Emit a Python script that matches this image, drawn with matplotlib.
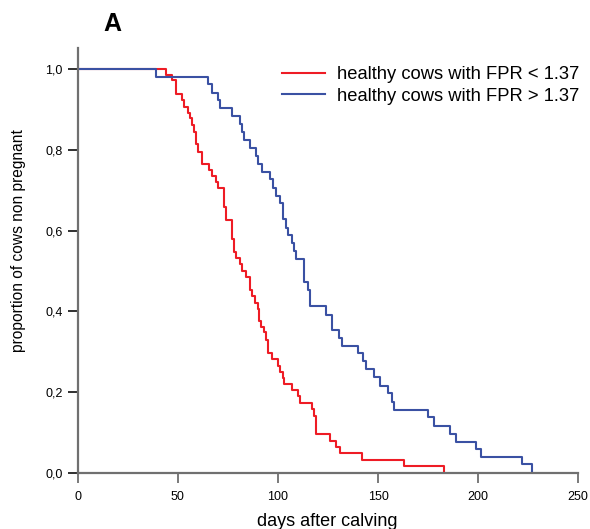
import matplotlib
matplotlib.use('Agg')
import matplotlib.pyplot as plt
from matplotlib.ticker import FuncFormatter

plt.rcParams['font.family'] = ['Liberation Sans', 'DejaVu Sans']

# Kaplan-Meier steps: day of each drop and the proportion left after it
low_days = [0, 44, 47, 49, 52, 53, 55, 56, 57, 58, 59, 60, 62, 65.5, 67, 69, 70,
            73, 74, 77, 78, 79, 81, 82, 84, 86, 87, 88.5, 90, 90.5, 91.5, 93, 94,
            95, 97, 100, 101, 102.5, 103, 107, 110, 111, 117, 118, 119, 126, 129,
            131, 142, 163, 183]
low_surv = [1.0, 0.986, 0.973, 0.938, 0.923, 0.905, 0.892, 0.878, 0.861, 0.844,
            0.814, 0.795, 0.766, 0.750, 0.735, 0.721, 0.706, 0.659, 0.626, 0.579,
            0.546, 0.532, 0.517, 0.501, 0.486, 0.453, 0.438, 0.422, 0.405, 0.376,
            0.362, 0.348, 0.329, 0.298, 0.281, 0.265, 0.249, 0.234, 0.220, 0.205,
            0.190, 0.173, 0.158, 0.142, 0.096, 0.079, 0.063, 0.049, 0.031, 0.018,
            0.0]

high_days = [0, 39, 65, 67, 70, 71, 77, 81, 82, 83, 86, 89, 90, 92, 96, 97.5, 99,
             101, 102.5, 104, 105, 107, 108, 109, 113, 115, 116, 124, 127, 130.5,
             132, 140, 142.5, 144, 148, 151, 155, 157, 158, 175, 178, 186, 189, 199,
             201.5, 222, 227]
high_surv = [1.0, 0.981, 0.962, 0.942, 0.923, 0.904, 0.884, 0.864, 0.845, 0.824,
             0.805, 0.785, 0.765, 0.746, 0.727, 0.706, 0.686, 0.668, 0.628, 0.607,
             0.588, 0.569, 0.550, 0.530, 0.472, 0.452, 0.413, 0.392, 0.354, 0.335,
             0.314, 0.296, 0.276, 0.257, 0.237, 0.216, 0.197, 0.176, 0.157, 0.138,
             0.117, 0.097, 0.077, 0.059, 0.040, 0.021, 0.0]

x_ticks = [0, 50, 100, 150, 200, 250]
y_ticks = [0.0, 0.2, 0.4, 0.6, 0.8, 1.0]

fig = plt.figure(figsize=(5.9, 5.29), dpi=100)
ax = fig.add_axes([0.132, 0.106, 0.848, 0.803])

ax.step(low_days, low_surv, where='post', color='#ee1c25', lw=1.5,
        label='healthy cows with FPR < 1.37')
ax.step(high_days, high_surv, where='post', color='#3a51a3', lw=1.5,
        label='healthy cows with FPR > 1.37')

ax.set_xlim(0, 250)
ax.set_ylim(0, 1.052)
ax.set_xticks(x_ticks)
ax.set_yticks(y_ticks)
ax.yaxis.set_major_formatter(FuncFormatter(lambda v, p: f'{v:.1f}'.replace('.', ',')))

for side in ['top', 'right']:
    ax.spines[side].set_visible(False)
for side in ['left', 'bottom']:
    ax.spines[side].set_color('#707070')
    ax.spines[side].set_linewidth(1.6)
ax.tick_params(axis='x', direction='out', length=7, width=1.3, color='#707070',
               labelsize=9, pad=6)
ax.tick_params(axis='y', direction='out', length=7, width=1.3, color='#202020',
               labelsize=9, pad=4)

ax.set_xlabel('days after calving', fontsize=13)
ax.xaxis.set_label_coords(0.498, -0.095)
ax.set_ylabel('proportion of cows non pregnant', fontsize=11.2)
ax.yaxis.set_label_coords(-0.104, 0.548)

fig.text(0.19, 0.955, 'A', fontsize=18, fontweight='bold', ha='center', va='center')

ax.legend(loc='upper left', bbox_to_anchor=(0.394, 0.975), frameon=False,
          fontsize=13.2, handlelength=2.35, handletextpad=0.65, labelspacing=0.26,
          borderaxespad=0)

fig.savefig('out.png', dpi=100)
